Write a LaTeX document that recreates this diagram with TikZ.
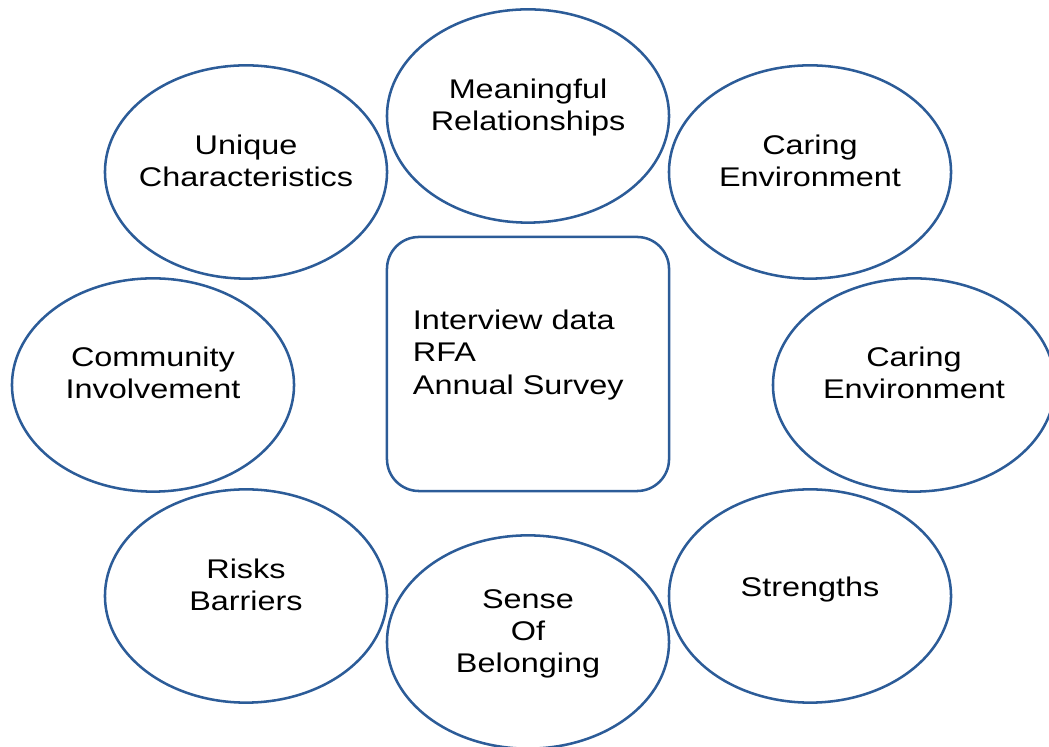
\documentclass[tikz,border=0pt]{standalone}
\usepackage{fontspec}
\setmainfont{Liberation Sans}[FakeStretch=1.2]
\usetikzlibrary{calc,shapes.geometric}
\definecolor{ringblue}{RGB}{44,92,152}

\begin{document}
\begin{tikzpicture}[x=0.025cm, y=0.025cm,
	theme/.style={draw=ringblue, ellipse, minimum width=7.05cm, minimum height=5.33cm, inner sep=0, line width=1.8pt},
	source/.style={draw=ringblue, rounded corners=0.8cm, minimum width=7.05cm, minimum height=6.35cm, inner sep=0, line width=1.8pt},
	txt/.style={align=center, inner sep=0, font=\fontsize{19.2}{22.8}\selectfont}]
	\useasboundingbox (0,0) rectangle (1049,747);
	\node [source] (data) at (528,383) {};
	\node [theme] (mr) at ($(data) + (0,248)$) {};
	\node [theme] (uc) at ($(data) + (-282,192)$) {};
	\node [theme] (ce1) at ($(data) + (282,192)$) {};
	\node [theme] (ci) at ($(data) + (-375,-21)$) {};
	\node [theme] (ce2) at ($(data) + (386,-21)$) {};
	\node [theme] (rb) at ($(data) + (-282,-232)$) {};
	\node [theme] (sb) at ($(data) + (0,-278)$) {};
	\node [theme] (st) at ($(data) + (282,-232)$) {};
	
	\node [txt] (mr-t) at ($(mr) + (0,8)$) {Meaningful\\Relationships};
	\node [txt] (uc-t) at ($(uc) + (0,11)$) {Unique\\Characteristics};
	\node [txt] (ce1-t) at ($(ce1) + (0,11)$) {Caring\\Environment};
	\node [txt] (ci-t) at ($(ci) + (0,12)$) {Community\\Involvement};
	\node [txt] (ce2-t) at ($(ce2) + (0,12)$) {Caring\\Environment};
	\node [txt] (rb-t) at ($(rb) + (0,11)$) {Risks\\Barriers};
	\node [txt] (sb-t) at ($(sb) + (0,8)$) {Sense\\Of\\Belonging};
	\node [txt] (st-t) at ($(st) + (0,6)$) {Strengths};
	\node [txt, align=left, anchor=west] (data-t) at ($(data.west) + (27,9)$) {Interview data\\RFA\\Annual Survey};
\end{tikzpicture}
\end{document}
